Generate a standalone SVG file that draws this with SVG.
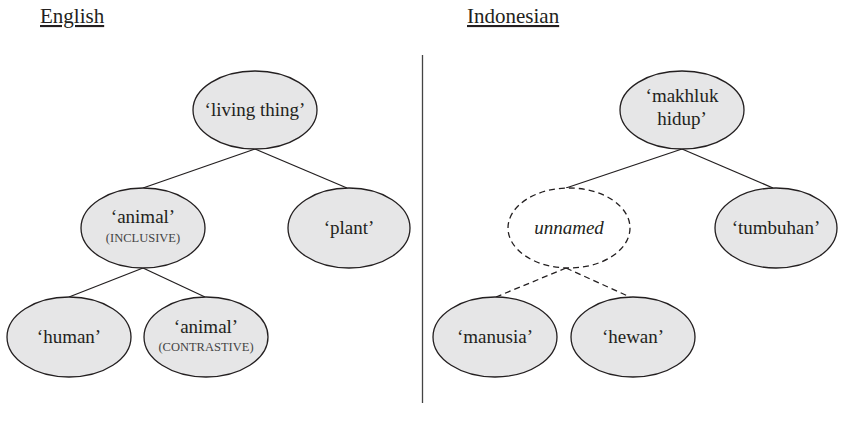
<svg xmlns="http://www.w3.org/2000/svg" width="844" height="431" viewBox="0 0 844 431">
<style>
text { font-family: "Liberation Serif", "DejaVu Serif", serif; fill: #231f20; }
.node { fill: #e6e6e7; stroke: #231f20; stroke-width: 1.3; }
.dnode { fill: #ffffff; stroke: #231f20; stroke-width: 1.3; stroke-dasharray: 6 4; }
.lbl { font-size: 19px; text-anchor: middle; }
.sc { font-size: 12.5px; text-anchor: middle; fill: #444; }
.title { font-size: 21px; text-decoration: underline; }
.edge { stroke: #231f20; stroke-width: 1.3; fill: none; }
.dedge { stroke: #231f20; stroke-width: 1.3; fill: none; stroke-dasharray: 6 4; }
</style>
<rect width="844" height="431" fill="#ffffff"/>
<g id="titles">
<text class="title" x="40" y="23">English</text>
<text class="title" x="467" y="23">Indonesian</text>
</g>
<line id="divider" x1="422.5" y1="55" x2="422.5" y2="403" stroke="#444" stroke-width="1.3"/>
<g id="connectors">
<line class="edge" x1="255" y1="149" x2="143" y2="188"/>
<line class="edge" x1="255" y1="149" x2="347" y2="188"/>
<line class="edge" x1="143" y1="268" x2="69" y2="297"/>
<line class="edge" x1="143" y1="268" x2="205" y2="297"/>
<line class="edge" x1="682" y1="149" x2="566" y2="188"/>
<line class="edge" x1="682" y1="149" x2="773" y2="188"/>
<line class="dedge" x1="566" y1="268" x2="496" y2="297"/>
<line class="dedge" x1="566" y1="268" x2="630" y2="297"/>
</g>
<g id="living-thing">
<ellipse class="node" cx="255" cy="110" rx="62" ry="39"/>
<text class="lbl" x="255" y="116">‘living thing’</text>
</g>
<g id="animal-inclusive">
<ellipse class="node" cx="143" cy="228" rx="62" ry="40"/>
<text class="lbl" x="143" y="223">‘animal’</text>
<text class="sc" x="143" y="242">(INCLUSIVE)</text>
</g>
<g id="plant">
<ellipse class="node" cx="349" cy="228" rx="61" ry="40"/>
<text class="lbl" x="349" y="234">‘plant’</text>
</g>
<g id="human">
<ellipse class="node" cx="69" cy="337" rx="62" ry="40"/>
<text class="lbl" x="69" y="343">‘human’</text>
</g>
<g id="animal-contrastive">
<ellipse class="node" cx="206" cy="337" rx="62" ry="40"/>
<text class="lbl" x="206" y="333">‘animal’</text>
<text class="sc" x="206" y="351">(CONTRASTIVE)</text>
</g>
<g id="makhluk-hidup">
<ellipse class="node" cx="682" cy="110" rx="62" ry="39"/>
<text class="lbl" x="682" y="102">‘makhluk</text>
<text class="lbl" x="682" y="125">hidup’</text>
</g>
<g id="unnamed">
<ellipse class="dnode" cx="569" cy="228" rx="61" ry="40"/>
<text class="lbl" x="569" y="234" font-style="italic">unnamed</text>
</g>
<g id="tumbuhan">
<ellipse class="node" cx="776" cy="228" rx="61" ry="40"/>
<text class="lbl" x="776" y="234">‘tumbuhan’</text>
</g>
<g id="manusia">
<ellipse class="node" cx="495" cy="337" rx="62" ry="40"/>
<text class="lbl" x="495" y="343">‘manusia’</text>
</g>
<g id="hewan">
<ellipse class="node" cx="633" cy="337" rx="62" ry="40"/>
<text class="lbl" x="633" y="343">‘hewan’</text>
</g>
</svg>
